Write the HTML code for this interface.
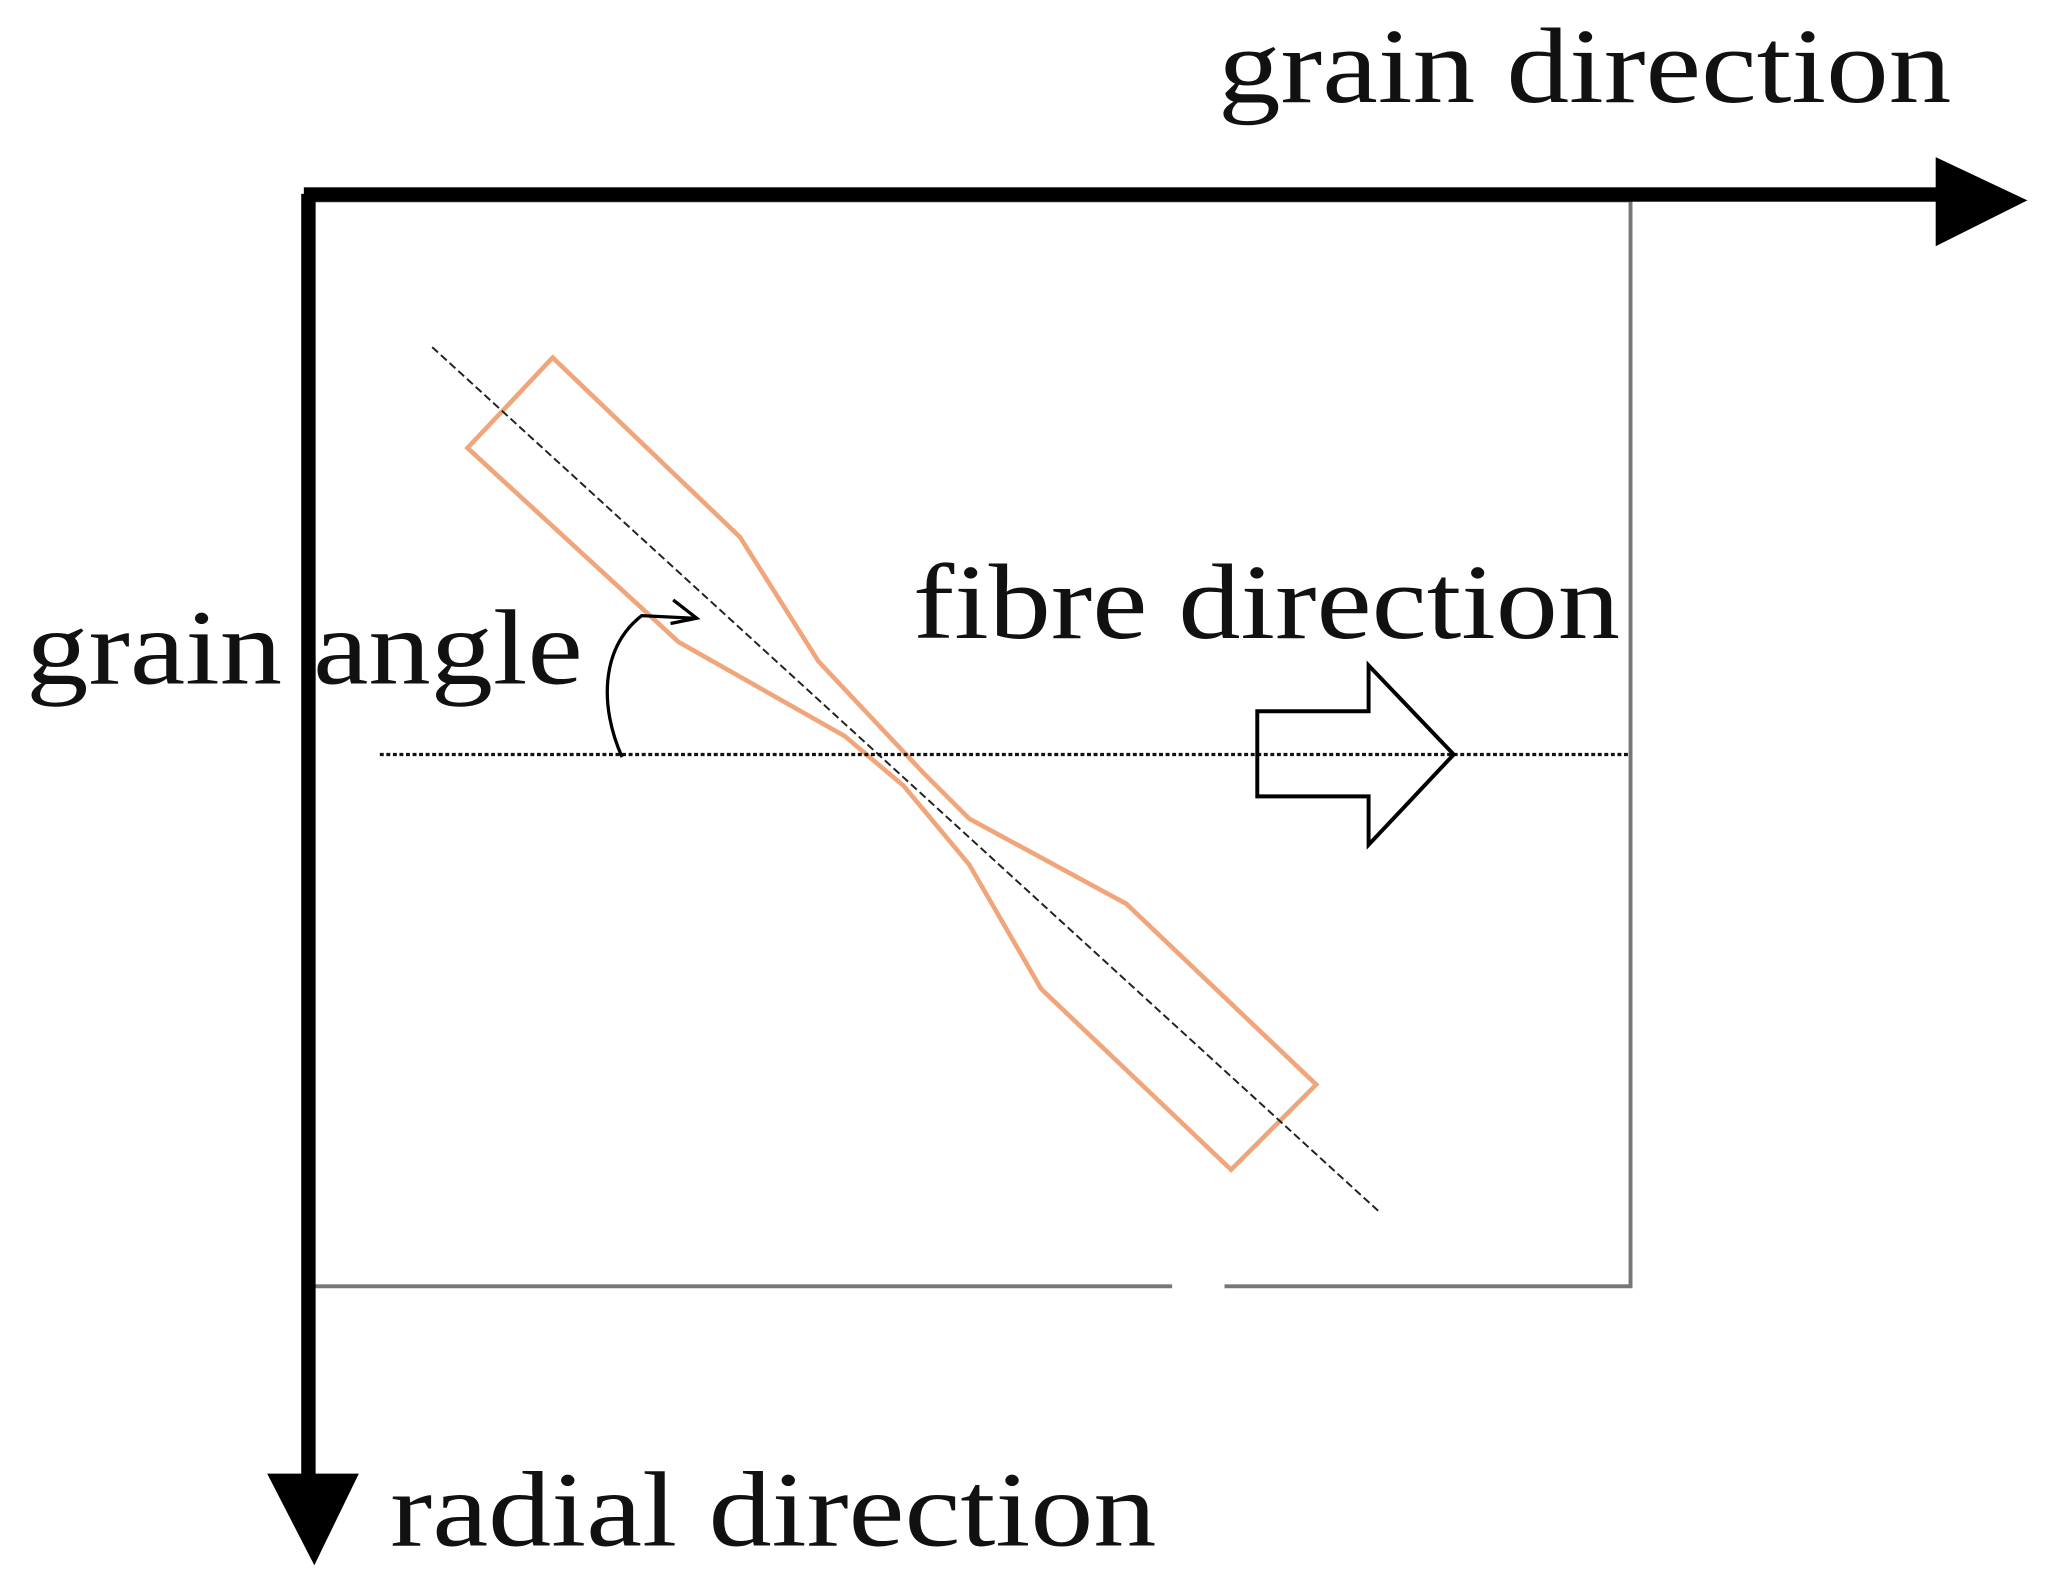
<!DOCTYPE html>
<html><head><style>html,body{margin:0;padding:0;background:#fff;}svg{display:block;}</style></head>
<body>
<svg width="2047" height="1581" viewBox="0 0 1563 1207" preserveAspectRatio="none" xmlns="http://www.w3.org/2000/svg">
<rect width="1563" height="1207" fill="#fff"/>
<!-- box -->
<rect x="238" y="153" width="1007" height="829" fill="none" stroke="#777" stroke-width="3"/>
<line x1="895" y1="982" x2="935" y2="982" stroke="#fff" stroke-width="6"/>
<!-- grain axis -->
<rect x="232" y="143" width="1250" height="11" fill="#000"/>
<polygon points="1478,120 1548,153 1478,188" fill="#000"/>
<!-- radial axis -->
<rect x="230" y="148" width="11" height="980" fill="#000"/>
<polygon points="204,1125 274,1125 240,1195" fill="#000"/>
<!-- orange specimen -->
<polygon points="422,273 357,342 518,490 645,562 690,600 740,660 795,755 940,893 1005,828 860,690 740,625 705,590 625,505 565,410" fill="none" stroke="#f0a57a" stroke-width="3.5"/>
<!-- dashed centre line -->
<line x1="330" y1="265" x2="1053" y2="925" stroke="#222" stroke-width="1.5" stroke-dasharray="6,3"/>
<!-- dotted horizontal -->
<line x1="290" y1="576" x2="1245" y2="576" stroke="#111" stroke-width="2.5" stroke-dasharray="3,2"/>
<!-- hollow arrow -->
<polygon points="960,543 1045,543 1045,508 1110,576 1045,645 1045,608 960,608" fill="none" stroke="#000" stroke-width="3"/>
<!-- angle arc -->
<path d="M475,578 C458,540 458,495 490,470 L530,472" fill="none" stroke="#000" stroke-width="2.5"/>
<path d="M514,458 L532,472 L512,476" fill="none" stroke="#000" stroke-width="2.5"/>
<!-- texts -->
<g font-family="Liberation Serif, serif" font-size="82" fill="#111">
<text x="930" y="78" textLength="560" lengthAdjust="spacingAndGlyphs">grain direction</text>
<text x="697" y="487" textLength="540" lengthAdjust="spacingAndGlyphs">fibre direction</text>
<text x="20" y="522" textLength="425" lengthAdjust="spacingAndGlyphs">grain angle</text>
<text x="298" y="1180" textLength="585" lengthAdjust="spacingAndGlyphs">radial direction</text>
</g>
</svg>
</body></html>
